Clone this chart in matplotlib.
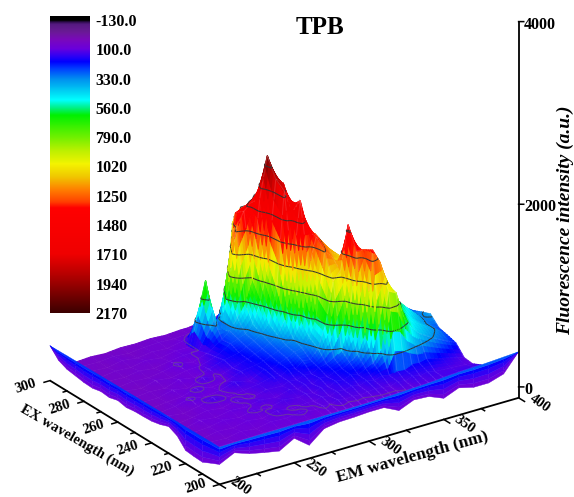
import matplotlib
matplotlib.use("Agg")
import matplotlib.pyplot as plt
import numpy as np
from matplotlib.colors import LinearSegmentedColormap, Normalize
from mpl_toolkits.mplot3d import proj3d
from mpl_toolkits.mplot3d.art3d import Poly3DCollection

plt.rcParams["font.family"] = ["Liberation Serif", "DejaVu Serif"]
plt.rcParams["font.weight"] = "bold"

# wavelengths of the surface grid (finer where the wall of the peak is)
em_nm = [200, 210, 220, 230, 240, 250, 260, 270, 275, 280, 285, 290, 295, 300, 305, 310, 315, 320,
         325, 330, 335, 340, 345, 350, 360, 370, 375]
ex_nm = [200, 205, 210, 215, 220, 225, 230, 235, 240, 245, 250, 255, 260, 265, 270, 275, 280, 285]

# intensity, one row per EX value
intensity = [
    [75, 78, 80, 82, 82, 83, 84, 85, 85, 85, 85, 85, 86, 88, 89, 92, 94, 97, 100, 105, 108, 112, 117, 124, 135, 142, 145],
    [70, 60, 90, 70, 100, 90, 110, 90, 110, 100, 130, 110, 120, 110, 120, 130, 120, 110, 140, 120, 150, 130, 150, 130, 120, 110, 100],
    [50, 80, 70, 100, 80, 120, 90, 110, 100, 130, 110, 140, 130, 150, 130, 160, 140, 170, 150, 180, 170, 200, 190, 210, 170, 130, 110],
    [60, 70, 100, 80, 110, 90, 130, 110, 130, 110, 150, 130, 170, 160, 190, 170, 210, 250, 380, 972, 930, 650, 520, 430, 330, 250, 213],
    [50, 90, 70, 100, 90, 120, 100, 140, 120, 150, 130, 170, 160, 190, 200, 240, 310, 520, 1375, 1220, 950, 850, 600, 500, 400, 300, 240],
    [40, 60, 90, 70, 110, 90, 130, 120, 150, 140, 170, 160, 200, 220, 260, 320, 620, 1333, 1320, 1287, 1000, 850, 720, 560, 400, 300, 263],
    [70, 50, 80, 130, 90, 110, 130, 170, 150, 200, 180, 240, 230, 330, 560, 1000, 1090, 1554, 1255, 1150, 1000, 870, 700, 650, 480, 320, 356],
    [50, 70, 110, 80, 100, 150, 110, 190, 170, 210, 240, 280, 300, 390, 600, 1268, 1182, 985, 1000, 1050, 1000, 900, 720, 640, 470, 320, 320],
    [40, 60, 70, 120, 80, 100, 160, 180, 200, 230, 260, 300, 340, 520, 1050, 1361, 1244, 1150, 1100, 1000, 950, 850, 750, 600, 420, 290, 280],
    [50, 50, 90, 60, 130, 90, 140, 190, 220, 250, 290, 350, 500, 1000, 1712, 1370, 1314, 1200, 1100, 1000, 900, 800, 700, 600, 400, 330, 260],
    [45, 60, 50, 100, 70, 120, 170, 200, 240, 280, 330, 420, 780, 1786, 1526, 1632, 1314, 1200, 1100, 950, 850, 750, 650, 580, 420, 300, 230],
    [60, 40, 80, 60, 90, 100, 150, 240, 270, 300, 380, 620, 1000, 1858, 1790, 1526, 1400, 1250, 1100, 950, 800, 700, 600, 520, 380, 270, 200],
    [40, 60, 50, 70, 110, 80, 130, 230, 300, 420, 560, 790, 1620, 2050, 1780, 1714, 1500, 1300, 1100, 900, 750, 650, 550, 480, 340, 240, 180],
    [55, 45, 70, 50, 80, 100, 100, 380, 250, 700, 1300, 1450, 1516, 1620, 1600, 1500, 1320, 1120, 960, 810, 680, 580, 500, 430, 300, 210, 160],
    [40, 60, 50, 80, 60, 90, 90, 750, 300, 220, 780, 1378, 1410, 1430, 1540, 1500, 1350, 1150, 980, 820, 690, 570, 490, 410, 280, 190, 140],
    [50, 40, 70, 50, 70, 60, 90, 150, 120, 100, 200, 500, 1258, 1330, 1335, 1441, 1300, 1100, 950, 800, 680, 560, 480, 400, 270, 180, 130],
    [50, 45, 60, 45, 60, 70, 60, 70, 80, 90, 90, 100, 300, 1138, 1250, 1250, 1100, 950, 800, 650, 550, 450, 380, 300, 220, 150, 110],
    [40, 50, 40, 55, 50, 60, 50, 60, 60, 70, 60, 70, 60, 50, 1038, 1165, 1176, 1000, 850, 700, 560, 450, 350, 280, 220, 160, 120],
]

# front lip along the two near edges: height of the top and of the jagged bottom
lip_ex = [200, 205, 210, 215, 220, 225, 230, 235, 240, 245, 250, 255, 260, 265, 270, 275, 280, 285, 290, 295, 300]
lip_ex_top = [395, 395, 393, 392, 390, 390, 388, 388, 386, 385, 385, 383, 382, 380, 380, 378, 376, 375, 374, 372, 370]
lip_ex_low = [212, 170, 125, 130, 140, 240, 284, 250, 230, 225, 223, 210, 230, 205, 215, 195, 200, 215, 230, 270, 370]
lip_em = [200, 210, 220, 230, 240, 250, 260, 270, 280, 290, 300, 310, 320, 330, 340, 350, 360, 370, 380, 390, 400]
lip_em_top = [395, 398, 400, 402, 402, 403, 404, 405, 405, 405, 408, 412, 418, 425, 432, 445, 455, 462, 470, 480, 490]
lip_em_low = [212, 290, 235, 200, 170, 260, 140, 270, 295, 300, 310, 310, 233, 300, 290, 225, 290, 250, 250, 300, 490]

cb_ticks = [-130, 100, 330, 560, 790, 1020, 1250, 1480, 1710, 1940, 2170]
cb_labels = ["-130.0", "100.0", "330.0", "560.0", "790.0", "1020", "1250", "1480", "1710", "1940", "2170"]
contour_levels = [100, 330, 560, 790, 1020, 1250, 1480, 1710, 1940]

vmin, vmax = -130, 2170
stops = [(-130, "#000000"), (-118, "#2c0a4c"), (-100, "#551a80"), (-40, "#6a1a96"), (20, "#7a08bc"),
         (90, "#6a00dc"), (150, "#3000f4"), (195, "#0000ff"), (250, "#0040ff"), (330, "#0090f0"),
         (440, "#00d8f4"), (497, "#00ffff"), (560, "#00f080"), (615, "#00f000"), (790, "#70f000"),
         (900, "#c0f000"), (1000, "#f4f400"), (1100, "#f0c800"), (1200, "#ff8000"), (1300, "#ff4000"),
         (1347, "#ff0000"), (1710, "#f00000"), (1908, "#a80000"), (2170, "#3c0000")]
cmap = LinearSegmentedColormap.from_list("tpb", [((v - vmin) / (vmax - vmin), c) for v, c in stops], N=512)
norm = Normalize(vmin, vmax)


def height(v):
    # the surface sits above the axis floor in the original
    return np.asarray(v) * 1.03 + 210


def lip_height(h):
    return np.asarray(h, dtype=float) * 1.03 - 120


# split every cell so the colour runs smoothly over it (the surface shape stays the same)
def refine(a, n):
    a = np.asarray(a, dtype=float)
    out = []
    for p, q in zip(a[:-1], a[1:]):
        out.extend(p + (q - p) * k / n for k in range(n))
    out.append(a[-1])
    return np.array(out)


N = 4
Z = np.array(intensity, dtype=float)
em_fine = refine(em_nm, N)
ex_fine = refine(ex_nm, N)
Z_fine = np.array([refine(r, N) for r in Z])
Z_fine = np.array([refine(c, N) for c in Z_fine.T]).T
EM, EX = np.meshgrid(em_fine, ex_fine)

fig = plt.figure(figsize=(5.74, 4.97), dpi=100)
ax = fig.add_axes([-9.4 / 574, 40.7 / 497, 1.0, 1.0], projection="3d", proj_type="ortho", computed_zorder=False)
ax.view_init(elev=24.9, azim=-124.5)
ax.set_xlim(200, 400)
ax.set_ylim(200, 300)
ax.set_zlim(-120, 4000)
ax.set_box_aspect((364, 300, 416), zoom=1.225)
ax.set_axis_off()


def label3d(x, y, z, s, **kw):
    # place a label at a 3D point, as plain 2D text
    px, py, _ = proj3d.proj_transform(x, y, z, ax.get_proj())
    ax.text2D(px, py, s, ha=kw.pop("ha", "center"), va="center", zorder=5, clip_on=False, **kw)


# facets, mesh and contour pieces go in one collection so they sort by depth together
polys, face, edge = [], [], []
H = height(Z_fine)
for i in range(Z_fine.shape[0] - 1):
    for j in range(Z_fine.shape[1] - 1):
        polys.append([(EM[i, j], EX[i, j], H[i, j]), (EM[i, j + 1], EX[i, j + 1], H[i, j + 1]),
                      (EM[i + 1, j + 1], EX[i + 1, j + 1], H[i + 1, j + 1]), (EM[i + 1, j], EX[i + 1, j], H[i + 1, j])])
        c = cmap(norm(Z_fine[i:i + 2, j:j + 2].mean()))
        face.append(c)
        edge.append(c)

for i in range(0, Z_fine.shape[0], N):
    for j in range(Z_fine.shape[1] - 1):
        polys.append([(EM[i, j] - 0.3, EX[i, j] - 0.2, H[i, j] + 6), (EM[i, j + 1] - 0.3, EX[i, j + 1] - 0.2, H[i, j + 1] + 6)])
        face.append((0, 0, 0, 0))
        edge.append((1, 1, 1, 0.13))
for j in range(0, Z_fine.shape[1], N):
    for i in range(Z_fine.shape[0] - 1):
        polys.append([(EM[i, j] - 0.3, EX[i, j] - 0.2, H[i, j] + 6), (EM[i + 1, j] - 0.3, EX[i + 1, j] - 0.2, H[i + 1, j] + 6)])
        face.append((0, 0, 0, 0))
        edge.append((1, 1, 1, 0.13))

tmp_fig, tmp_ax = plt.subplots()
cs = tmp_ax.contour(EM, EX, Z_fine, levels=contour_levels)
for lev, segs in zip(contour_levels, cs.allsegs):
    col = (0.42, 0.3, 0.55, 0.7) if lev == 100 else (0.2, 0.2, 0.2, 1.0)
    for seg in segs:
        for p, q in zip(seg[:-1], seg[1:]):
            polys.append([(p[0] - 1.2, p[1] - 0.7, height(lev) + 25), (q[0] - 1.2, q[1] - 0.7, height(lev) + 25)])
            face.append((0, 0, 0, 0))
            edge.append(col)
plt.close(tmp_fig)

surf = Poly3DCollection(polys, facecolors=face, edgecolors=edge, linewidths=0.75, zorder=2)
surf.set_clip_on(False)
ax.add_collection3d(surf)

# the lip in front of the surface
lip_polys, lip_col = [], []
for xs, ys, top, low, vtop in [
    (np.full(len(lip_ex), 200.0), np.array(lip_ex, float), lip_ex_top, lip_ex_low, 260),
    (np.array(lip_em, float), np.full(len(lip_em), 200.0), lip_em_top, lip_em_low, 330),
]:
    t = lip_height(top)
    b = lip_height(low)
    steps = [0.0, 0.12, 0.3, 0.55, 0.8, 1.0]
    vals = [vtop, 210, 170, 130, 95, 70]
    for k in range(len(xs) - 1):
        for s in range(len(steps) - 1):
            z00 = t[k] + (b[k] - t[k]) * steps[s]
            z01 = t[k + 1] + (b[k + 1] - t[k + 1]) * steps[s]
            z10 = t[k] + (b[k] - t[k]) * steps[s + 1]
            z11 = t[k + 1] + (b[k + 1] - t[k + 1]) * steps[s + 1]
            lip_polys.append([(xs[k], ys[k], z00), (xs[k + 1], ys[k + 1], z01), (xs[k + 1], ys[k + 1], z11), (xs[k], ys[k], z10)])
            lip_col.append(cmap(norm((vals[s] + vals[s + 1]) / 2)))
lip = Poly3DCollection(lip_polys, facecolors=lip_col, edgecolors=lip_col, linewidths=0.3, zorder=3)
lip.set_clip_on(False)
ax.add_collection3d(lip)

# axes drawn by hand at the front of the box
line = dict(color="black", lw=1.3, zorder=4, solid_capstyle="butt", clip_on=False)
floor = -120
ax.plot([200, 400], [200, 200], [floor, floor], **line)
ax.plot([200, 200], [200, 300], [floor, floor], **line)
ax.plot([400, 400], [200, 200], [floor, 4000], **line)

tick = dict(color="black", lw=1.1, zorder=4, clip_on=False)
for em in [200, 225, 250, 275, 300, 325, 350, 375, 400]:
    d = 3.5 if em % 50 == 0 else 2
    ax.plot([em, em], [200, 200 - d], [floor, floor], **tick)
for ex in [200, 210, 220, 230, 240, 250, 260, 270, 280, 290, 300]:
    d = 4 if ex % 20 == 0 else 2.5
    ax.plot([200, 200 - d], [ex, ex], [floor, floor], **tick)

# the two 200 labels are lifted a little to stay inside the picture
for em in [200, 250, 300, 350, 400]:
    label3d(em + 5.5, 192.5, floor + (40 if em == 200 else 0), str(em), fontsize=10.5, rotation=-35)
for ex in [200, 220, 240, 260, 280, 300]:
    label3d(185, ex + 1, floor + (40 if ex == 200 else 0), str(ex), fontsize=10.5, rotation=18)
for z in [0, 2000, 4000]:
    ax.plot([400, 402.3], [200, 199], [z, z], **tick)
    label3d(402.3, 198.7, z - 30, str(z), fontsize=11.5, ha="left")

fig.text(412 / 574, 1 - 457 / 497, "EM wavelength (nm)", fontsize=12.5, rotation=15.5, ha="center", va="center")
fig.text(77 / 574, 1 - 440 / 497, "EX wavelength (nm)", fontsize=10.5, rotation=-30, ha="center", va="center")
fig.text(565 / 574, 1 - 220 / 497, "Fluorescence intensity (a.u.)", fontsize=14, style="italic",
         rotation=90, ha="center", va="center")
fig.text(320 / 574, 1 - 28 / 497, "TPB", fontsize=18, ha="center", va="center")

# colour scale, its labels sit a little inside the top of the bar
cax = fig.add_axes([50 / 574, 1 - 313 / 497, 40 / 574, 297 / 497])
bar_top = -161
grad = np.linspace(bar_top, vmax, 512)[:, None]
cax.imshow(grad, aspect="auto", cmap=cmap, norm=norm, extent=[0, 1, vmax, bar_top])
cax.set_xticks([])
cax.yaxis.tick_right()
cax.set_yticks(cb_ticks, cb_labels, fontsize=11.5)
cax.tick_params(axis="y", length=0, pad=4)
for s in cax.spines.values():
    s.set_visible(False)

fig.savefig("out.png", dpi=100)
